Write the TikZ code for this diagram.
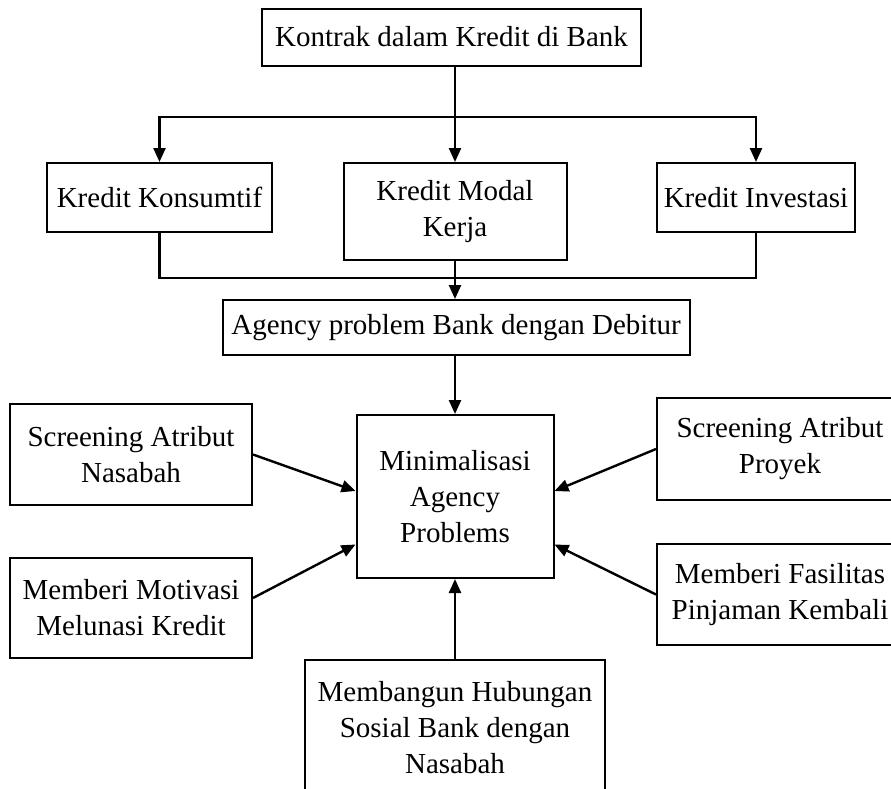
\documentclass[tikz,border=0pt]{standalone}
\usepackage{fontspec}
\setmainfont{Liberation Serif}
\usepackage{tikz}
\usetikzlibrary{arrows.meta}

\begin{document}
\begin{tikzpicture}[x=0.5pt, y=-0.5pt,
		kotak/.style={draw, line width=1pt, align=center, inner sep=0pt,
			font=\fontsize{14.5}{18}\selectfont},
		panah/.style={line width=1.2pt, -{Triangle[length=7pt, width=6pt]}},
		garis/.style={line width=1.2pt}]
			\useasboundingbox (0, 0) rectangle (891, 789);
			\clip (0, 0) rectangle (891, 789);

			\node [kotak, minimum width=189.5pt, minimum height=28.5pt] (kontrak) at (451.5, 37) {Kontrak dalam Kredit di Bank};

			\node [kotak, minimum width=112.5pt, minimum height=34.5pt] (konsumtif) at (159.5, 197.5) {Kredit Konsumtif};
			\node [kotak, minimum width=111.5pt, minimum height=48.5pt] (modal) at (455, 211.5) {Kredit Modal\\Kerja};
			\node [kotak, minimum width=99pt, minimum height=34.5pt] (investasi) at (756, 197.5) {Kredit Investasi};

			\coordinate (cabang) at (455, 117);
			\draw [garis] (cabang |- kontrak.south) -- (cabang);
			\draw [panah] (cabang) -| (konsumtif.north);
			\draw [panah] (cabang) -- (modal.north);
			\draw [panah] (cabang) -| (investasi.north);

			\node [kotak, minimum width=233.5pt, minimum height=27.5pt] (agency) at (456, 327.5) {Agency problem Bank dengan Debitur};

			\coordinate (gabung) at (455, 278);
			\draw [garis] (konsumtif.south) |- (gabung);
			\draw [garis] (investasi.south) |- (gabung);
			\draw [garis] (modal.south) -- (gabung);
			\draw [panah] (gabung) -- (gabung |- agency.north);

			\node [kotak, minimum width=98.5pt, minimum height=81.5pt] (minimal) at (455, 496.5) {Minimalisasi\\Agency\\Problems};
			\draw [panah] (gabung |- agency.south) -- (minimal.north);

			\node [kotak, minimum width=121pt, minimum height=50.5pt] (nasabah) at (131, 454.5) {Screening Atribut\\Nasabah};
			\node [kotak, minimum width=121pt, minimum height=50pt] (motivasi) at (131, 608) {Memberi Motivasi\\Melunasi Kredit};
			\node [kotak, minimum width=123pt, minimum height=51pt] (proyek) at (780, 449) {Screening Atribut\\Proyek};
			\node [kotak, minimum width=123pt, minimum height=50.5pt] (fasilitas) at (780, 594.5) {Memberi Fasilitas\\Pinjaman Kembali};
			\node [kotak, minimum width=150pt, minimum height=68pt] (sosial) at (455, 728) {Membangun Hubungan\\Sosial Bank dengan\\Nasabah};

			\draw [panah] (nasabah.east) -- ([yshift=2.75pt]minimal.west);
			\draw [panah] ([yshift=5pt]motivasi.east) -- ([yshift=-24pt]minimal.west);
			\draw [panah] (proyek.west) -- ([yshift=2.75pt]minimal.east);
			\draw [panah] (fasilitas.west) -- ([yshift=-24pt]minimal.east);
			\draw [panah] (sosial.north) -- (minimal.south);
		\end{tikzpicture}
\end{document}
